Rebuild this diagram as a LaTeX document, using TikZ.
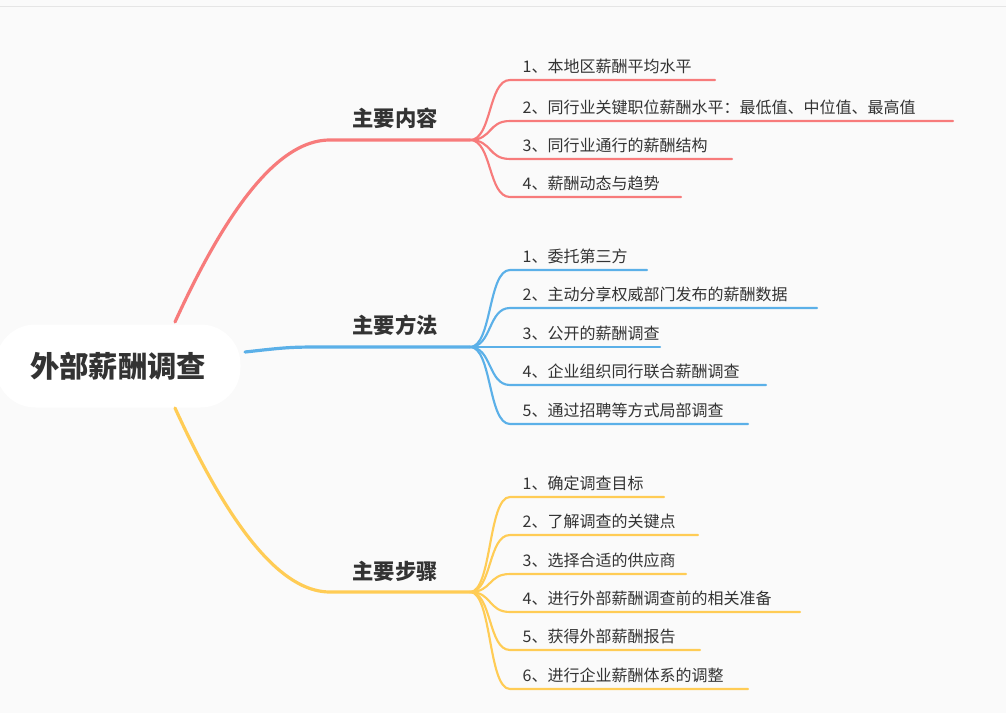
\documentclass[tikz,border=0pt]{standalone}
\usepackage{fontspec}
\setmainfont{Noto Sans CJK SC}
\definecolor{redb}{HTML}{F77B7B}
\definecolor{blueb}{HTML}{5BB0E8}
\definecolor{yellowb}{HTML}{FFCC55}
\definecolor{txt}{HTML}{333333}
\tikzset{main/.style = {font=\fontsize{16}{18}\selectfont\bfseries, text=txt}}
\tikzset{leaf/.style = {font=\fontsize{12}{14}\selectfont, text=txt, anchor=west}}
\tikzset{edge/.style = {line width=1.6pt, line cap=round}}
\begin{document}
\begin{tikzpicture}[x=0.75pt,y=-0.75pt]
\useasboundingbox (0,0) rectangle (1006,713);
\fill[black!2] (0,0) rectangle (1006,713);
\draw[black!10] (0,6) -- (1006,6);
% root
\node[fill=white, rounded corners=30pt, minimum width=245*0.75pt, minimum height=83*0.75pt, font=\fontsize{22}{26}\selectfont\bfseries, text=txt] (root) at (118,366) {外部薪酬调查};
\coordinate (rtop) at (175,322);
\coordinate (rmid) at (245,352);
\coordinate (rbot) at (175,408);
% branches
\node[main] (content) at (395,118) {主要内容};
\node[main] (method) at (395,325) {主要方法};
\node[main] (steps) at (395,571) {主要步骤};
\coordinate (hc) at (470,140);
\coordinate (hm) at (470,347);
\coordinate (hs) at (470,592);
\draw[edge, redb, line width=2.4pt] (rtop) .. controls (240,180) and (290,140) .. (330,140) -- (hc);
\draw[edge, blueb, line width=2.4pt] (rmid) .. controls (290,347) .. (330,347) -- (hm);
\draw[edge, yellowb, line width=2.4pt] (rbot) .. controls (240,550) and (290,592) .. (330,592) -- (hs);
% leaves
\foreach \y/\e/\t [count=\i] in {80/715/1、本地区薪酬平均水平, 121/953/2、同行业关键职位薪酬水平：最低值、中位值、最高值, 159/732/3、同行业通行的薪酬结构, 197/681/4、薪酬动态与趋势}{
  \node[leaf] (c\i) at (518,\y-14) {\t};
  \coordinate (ce\i) at (\e,\y);
  \draw[edge, redb] (hc) .. controls (492,140) and (488,\y) .. (510,\y) -- (ce\i);
}
\foreach \y/\e/\t [count=\i] in {270/647/1、委托第三方, 308/817/2、主动分享权威部门发布的薪酬数据, 347/660/3、公开的薪酬调查, 385/766/4、企业组织同行联合薪酬调查, 424/748/5、通过招聘等方式局部调查}{
  \node[leaf] (m\i) at (518,\y-14) {\t};
  \coordinate (me\i) at (\e,\y);
  \draw[edge, blueb] (hm) .. controls (492,347) and (488,\y) .. (510,\y) -- (me\i);
}
\foreach \y/\e/\t [count=\i] in {497/664/1、确定调查目标, 535/698/2、了解调查的关键点, 574/686/3、选择合适的供应商, 612/800/4、进行外部薪酬调查前的相关准备, 650/700/5、获得外部薪酬报告, 689/748/6、进行企业薪酬体系的调整}{
  \node[leaf] (s\i) at (518,\y-14) {\t};
  \coordinate (se\i) at (\e,\y);
  \draw[edge, yellowb] (hs) .. controls (492,592) and (488,\y) .. (510,\y) -- (se\i);
}
\end{tikzpicture}
\end{document}
